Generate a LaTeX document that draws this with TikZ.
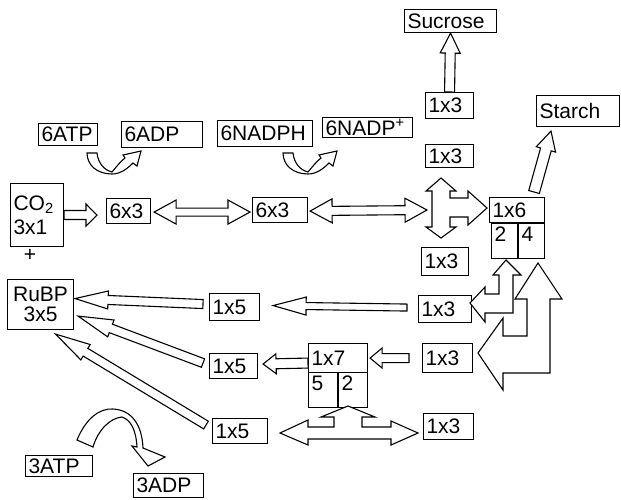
\documentclass[tikz,border=0pt]{standalone}
\usepackage{fontspec}
\setmainfont{Liberation Sans}
\usetikzlibrary{calc}

\newcommand{\labelfont}{\fontsize{21}{24}\selectfont}

\tikzset{
  box/.style={draw, line width=1.1pt, anchor=north west, inner xsep=3pt, inner ysep=0pt, align=left, font=\labelfont},
  subbox/.style={box, text height=18pt, text depth=17pt},
  block/.style={draw, fill=white, line width=1.1pt, line join=miter},
}

% hollow block arrow: tail, tip, half shaft, half head, head length
\newcommand{\blockarrow}[5]{%
  \coordinate (ba-t) at (#1);
  \coordinate (ba-h) at (#2);
  \coordinate (ba-b) at ($(ba-h)!#5pt!(ba-t)$);
  \draw[block] ($(ba-t)!#3pt!-90:(ba-h)$) -- ($(ba-b)!#3pt!-90:(ba-h)$) -- ($(ba-b)!#4pt!-90:(ba-h)$)
    -- (ba-h) -- ($(ba-b)!#4pt!90:(ba-h)$) -- ($(ba-b)!#3pt!90:(ba-h)$) -- ($(ba-t)!#3pt!90:(ba-h)$) -- cycle;
}
% same with a head at both ends
\newcommand{\dblockarrow}[5]{%
  \coordinate (ba-t) at (#1);
  \coordinate (ba-h) at (#2);
  \coordinate (ba-a) at ($(ba-t)!#5pt!(ba-h)$);
  \coordinate (ba-b) at ($(ba-h)!#5pt!(ba-t)$);
  \draw[block] (ba-t) -- ($(ba-a)!#4pt!-90:(ba-h)$) -- ($(ba-a)!#3pt!-90:(ba-h)$) -- ($(ba-b)!#3pt!-90:(ba-h)$)
    -- ($(ba-b)!#4pt!-90:(ba-h)$) -- (ba-h) -- ($(ba-b)!#4pt!90:(ba-h)$) -- ($(ba-b)!#3pt!90:(ba-h)$)
    -- ($(ba-a)!#3pt!90:(ba-h)$) -- ($(ba-a)!#4pt!90:(ba-h)$) -- cycle;
}

\begin{document}
\begin{tikzpicture}[x=1pt, y=-1pt]
  \useasboundingbox (0,0) rectangle (621,499);

  % top row: energy carriers and products
  \node[box, text width=86pt, minimum height=23pt] (sucrose) at (404,9) {Sucrose};
  \node[box, text width=42pt, minimum height=26pt] (onethreeA) at (425,92) {1x3};
  \node[box, text width=77pt, minimum height=31pt] (starch) at (536,95) {Starch};
  \node[box, text width=53pt, minimum height=22pt] (sixatp) at (38,123) {6ATP};
  \node[box, text width=75pt, minimum height=26pt] (sixadp) at (121,121) {6ADP};
  \node[box, text width=89pt, minimum height=26pt] (nadph) at (217,120) {6NADPH};
  \node[box, text width=84pt, minimum height=20pt] (nadpplus) at (322,117) {6NADP\textsuperscript{+}};
  \node[box, text width=42pt, minimum height=23pt] (onethreeB) at (425,144) {1x3};

  % carboxylation and reduction
  \node[box, text width=47pt, minimum height=63pt] (co2) at (10,183) {CO\textsubscript{2}\\3x1};
  \node[font=\labelfont] (plus) at (30,255) {+};
  \node[box, text width=38pt, minimum height=25pt] (sixA) at (106,198) {6x3};
  \node[box, text width=49pt, minimum height=25pt] (sixB) at (252,197) {6x3};
  \node[box, text width=49pt, minimum height=25pt] (onesix) at (489,197) {1x6};
  \node[subbox, text width=20pt] (subtwo) at (491,223) {2};
  \node[subbox, text width=20pt] (subfour) at (518,223) {4};
  \node[box, text width=41pt, minimum height=28pt] (onethreeC) at (421,247) {1x3};

  % regeneration
  \node[box, align=center, text width=60pt, minimum height=50pt] (rubp) at (7,279) {RuBP\\[-4pt]3x5};
  \node[box, text width=44pt, minimum height=27pt] (fiveA) at (209,293) {1x5};
  \node[box, text width=47pt, minimum height=27pt] (onethreeD) at (418,295) {1x3};
  \node[box, text width=53pt, minimum height=29pt] (oneseven) at (308,343) {1x7};
  \node[subbox, text width=23pt] (subfive) at (308,372) {5};
  \node[subbox, text width=23pt] (subtwob) at (338,372) {2};
  \node[box, text width=44pt, minimum height=29pt] (onethreeE) at (422,343) {1x3};
  \node[box, text width=42pt, minimum height=25pt] (fiveB) at (209,353) {1x5};
  \node[box, text width=49pt, minimum height=25pt] (fiveC) at (212,418) {1x5};
  \node[box, text width=44pt, minimum height=26pt] (onethreeF) at (423,413) {1x3};
  \node[box, text width=61pt, minimum height=21pt] (threeatp) at (25,455) {3ATP};
  \node[box, text width=64pt, minimum height=24pt] (threeadp) at (133,473) {3ADP};

  \coordinate (hub) at (441,209);

  % straight block arrows
  \blockarrow{$(co2.north east)+(0,32)$}{$(sixA.west)+(-9,4)$}{4.5}{11}{11}
  \dblockarrow{$(sixA.east)+(3,1)$}{$(sixB.west)+(-2,2)$}{4}{12}{22}
  \dblockarrow{$(sixB.east)+(2,1)$}{$(hub)+(-14,1)$}{4.5}{12}{22}
  \blockarrow{onethreeA.north}{sucrose.south}{5}{10}{20}
  \blockarrow{$(onesix.north)+(17,-5)$}{$(starch.south west)+(15,4)$}{5.5}{10}{19}
  \blockarrow{$(onethreeD.west)+(-11,-1.5)$}{$(fiveA.east)+(13,-1.5)$}{3.5}{9}{33}
  \blockarrow{$(onethreeE.west)+(-13,0)$}{$(oneseven.east)+(2,0)$}{4.5}{10}{12}
  \blockarrow{$(oneseven.west)+(0,5)$}{$(fiveB.east)+(5,-2)$}{5}{10}{13}
  \blockarrow{$(fiveA.west)+(-6,-3)$}{$(rubp.east)+(1,-6)$}{4.5}{9}{33}
  \blockarrow{$(fiveB.west)+(-6,-3)$}{$(rubp.south east)+(4,-14)$}{4.5}{9}{35}
  \blockarrow{$(fiveC.west)+(-6,-6)$}{$(rubp.south)+(15,4)$}{4.5}{9}{35}

  % branching arrows
  \draw[block] (441,178) -- (456,191) -- (450,191) -- (450,198) -- (468,198) -- (468,191) -- (487,208)
    -- (468,225) -- (468,217) -- (450,217) -- (450,227) -- (456,227) -- (441,238) -- (426,227)
    -- (432,227) -- (432,191) -- (426,191) -- cycle;
  \draw[block] (478,353) -- (503,318) -- (503,336) -- (527,336) -- (527,299) -- (515,299) -- (538,263)
    -- (562,299) -- (550,299) -- (550,373) -- (503,373) -- (503,390) -- cycle;
  \draw[block] (470,303) -- (485,287) -- (485,294) -- (499,294) -- (499,275) -- (493,275) -- (506,260)
    -- (521,275) -- (513,275) -- (513,313) -- (485,313) -- (485,322) -- cycle;
  \draw[block] (348,406) -- (375,417) -- (362,417) -- (362,427) -- (391,427) -- (391,421) -- (418,433)
    -- (391,445) -- (391,439) -- (308,439) -- (308,445) -- (280,433) -- (308,420) -- (308,427)
    -- (334,427) -- (334,417) -- (321,417) -- cycle;

  % curved arrows (ATP -> ADP, NADPH -> NADP+)
  \foreach \dx in {0,196} {
    \begin{scope}[xshift=\dx pt]
      \draw[block] (87,153) -- (97,153) .. controls (98,163) and (104,170) .. (112,172)
        .. controls (117,166) and (121,161) .. (125,158) -- (123,155) -- (141,151) -- (137,166) -- (133,163)
        .. controls (128,168) and (121,174) .. (112,174) .. controls (97,174) and (87,165) .. (87,153) -- cycle;
    \end{scope}
  }
  \draw[block] (77,440) .. controls (86,418) and (100,408) .. (113,409) .. controls (132,410) and (142,425) .. (143,448)
    -- (165,457) -- (148,466) -- (132,446) -- (137,447) .. controls (136,430) and (131,420) .. (122,417)
    .. controls (110,418) and (98,430) .. (93,447) -- cycle;

\end{tikzpicture}
\end{document}
